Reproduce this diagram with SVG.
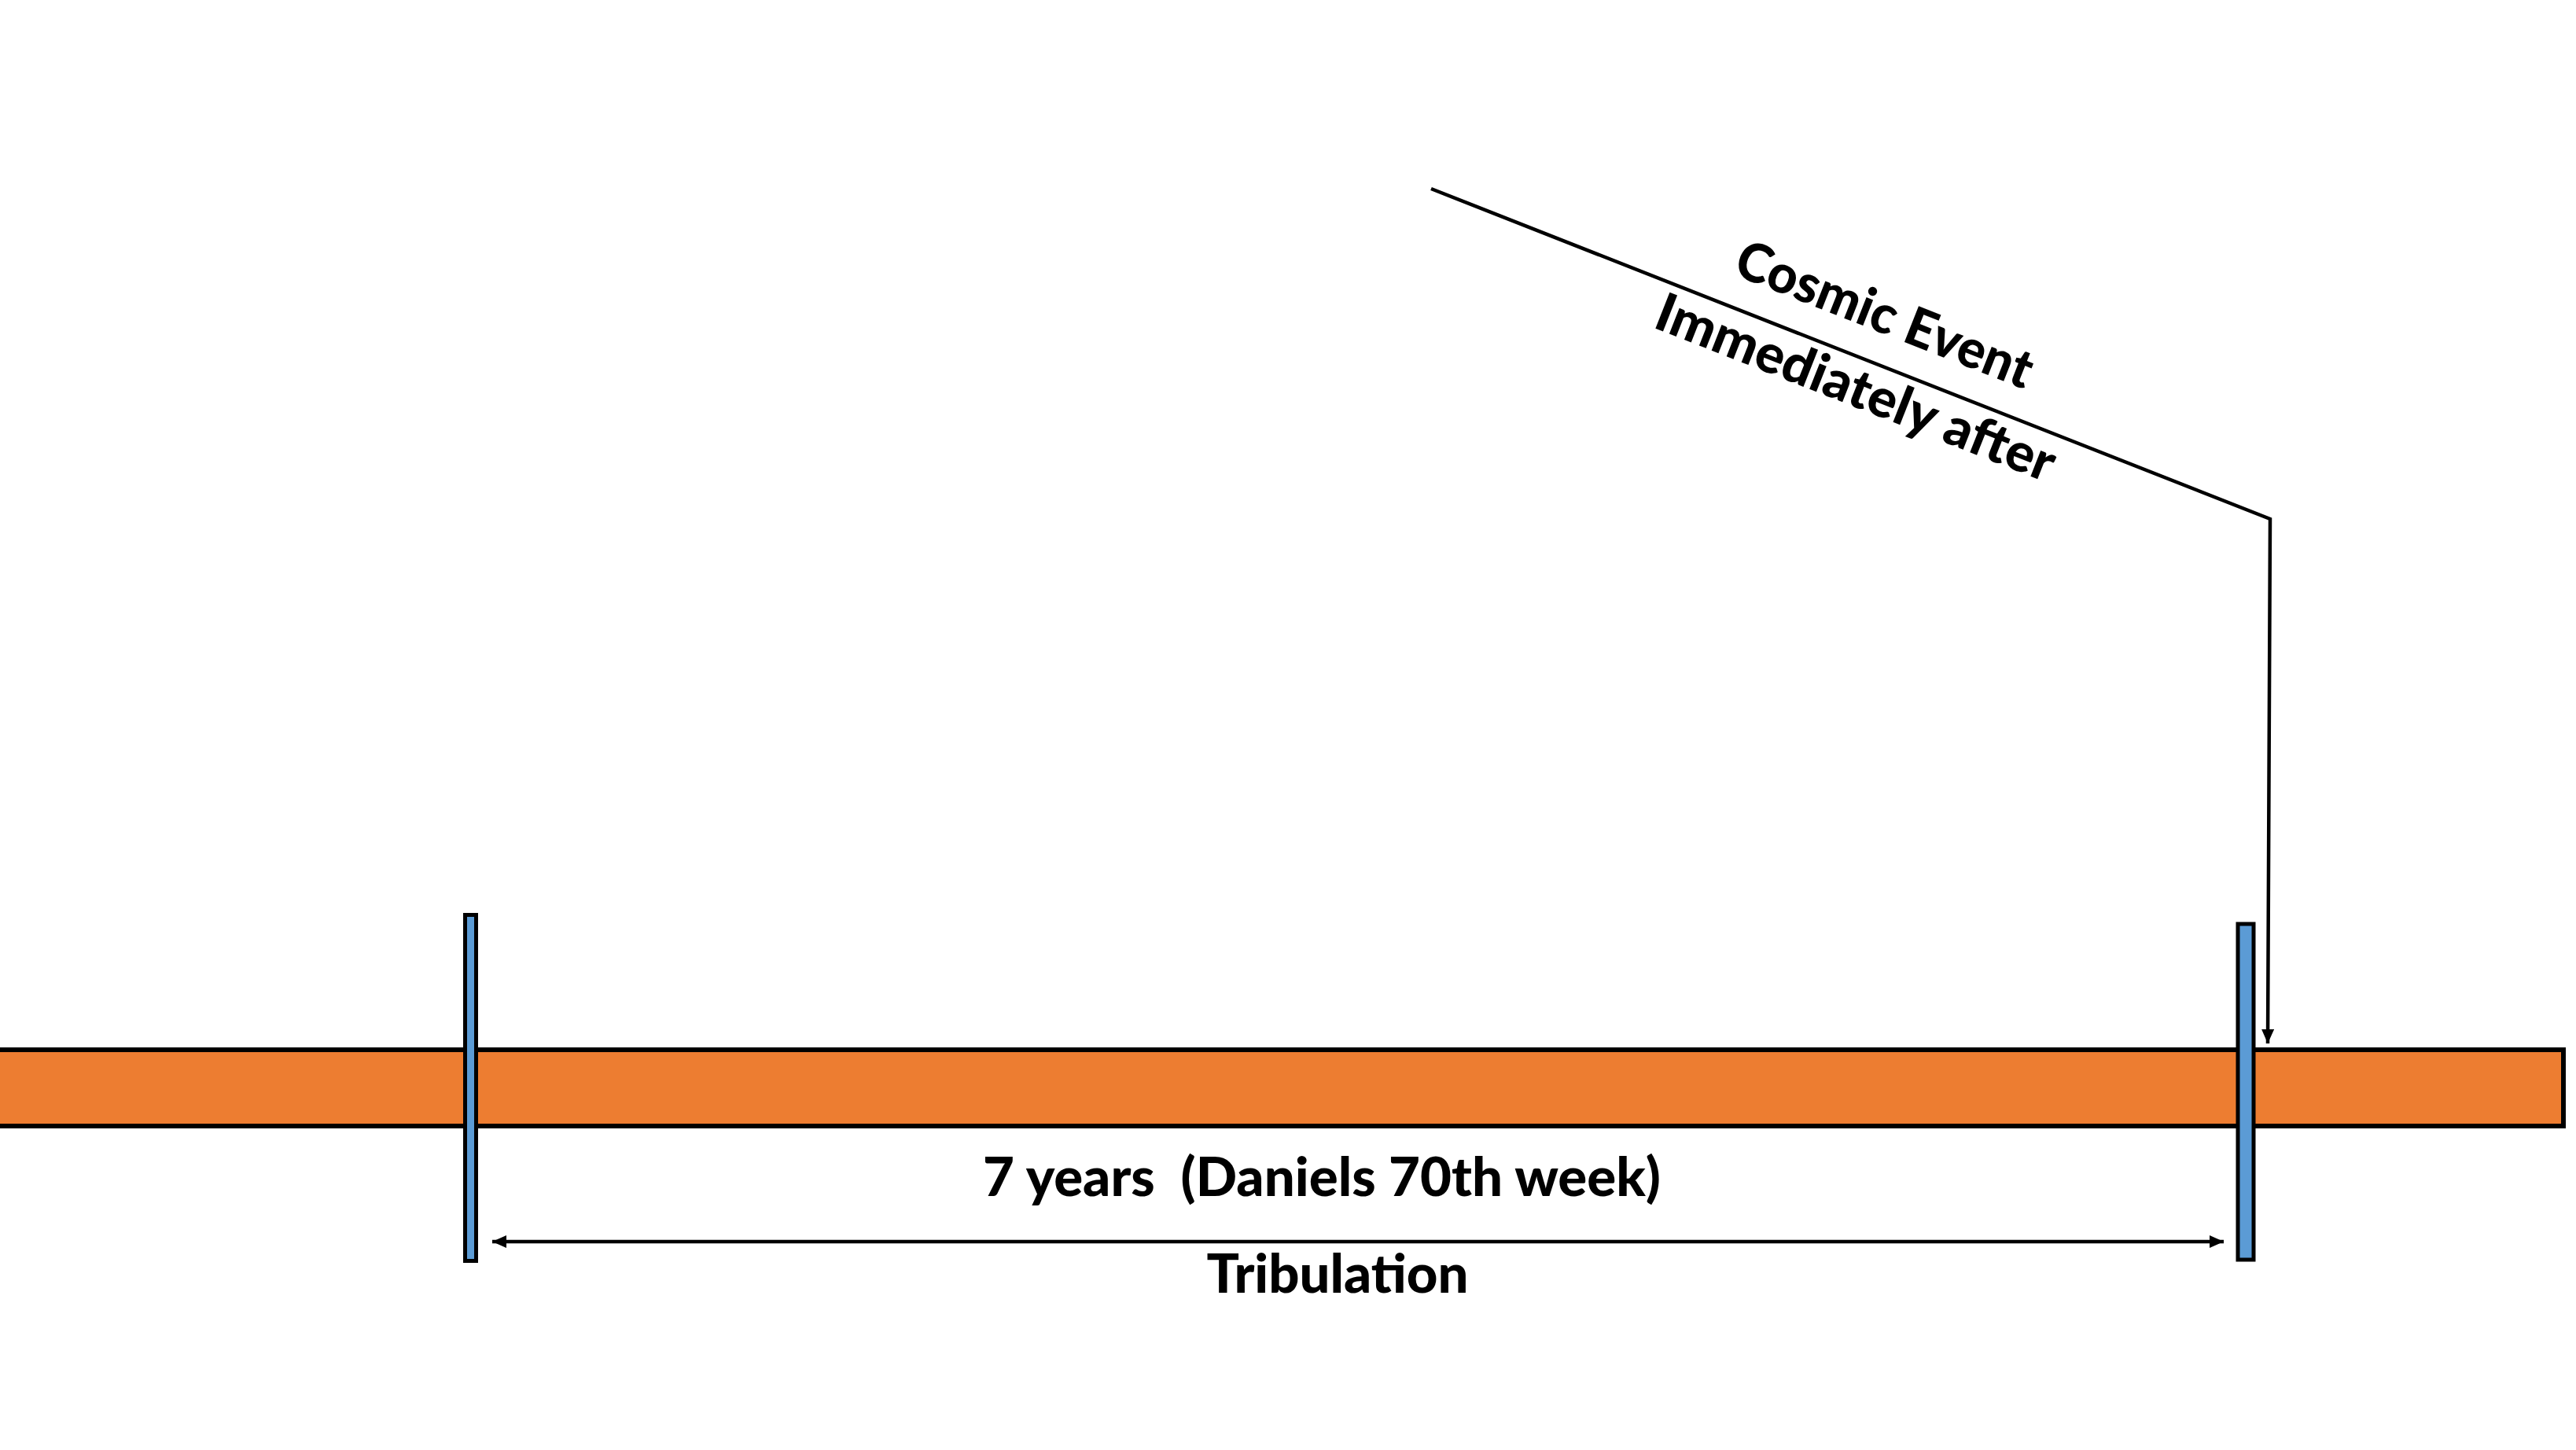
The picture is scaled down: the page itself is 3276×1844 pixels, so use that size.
<svg xmlns="http://www.w3.org/2000/svg" width="3276" height="1844" viewBox="0 0 3276 1844">
  <style>
    .lbl { font-family: Lato, "Open Sans", "Liberation Sans", sans-serif; font-weight: 900; font-size: 68px; fill: #000; white-space: pre; }
    .bar { fill: #ED7D31; stroke: #000; stroke-width: 6; }
    .mark { fill: #5B9BD5; stroke: #000; stroke-width: 5; }
    .conn { fill: none; stroke: #000; stroke-width: 4.5; }
  </style>
  <defs>
    <marker id="ah" markerUnits="userSpaceOnUse" markerWidth="20" markerHeight="16" refX="18" refY="8" orient="auto-start-reverse">
      <path d="M0,0 L18,8 L0,16 Z" fill="#000"/>
    </marker>
  </defs>
  <rect width="3276" height="1844" fill="#fff"/>

  <g id="timeline">
    <rect class="bar" x="-10" y="1335" width="3270" height="97"/>
  </g>

  <g id="start-mark">
    <rect class="mark" x="591.5" y="1163.5" width="14" height="440"/>
  </g>

  <g id="end-mark">
    <rect class="mark" x="2846" y="1175" width="20" height="427"/>
  </g>

  <g id="connectors">
    <path class="conn" d="M1820,240 L2887,660 L2884,1327" marker-end="url(#ah)"/>
    <line class="conn" x1="626" y1="1579" x2="2828" y2="1579" marker-start="url(#ah)" marker-end="url(#ah)"/>
  </g>

  <g id="labels">
    <text class="lbl" x="1681" y="1521" text-anchor="middle" textLength="862" lengthAdjust="spacingAndGlyphs">7 years  (Daniels 70th week)</text>
    <text class="lbl" x="1701" y="1644" text-anchor="middle" textLength="333" lengthAdjust="spacingAndGlyphs">Tribulation</text>
    <g transform="translate(2374,458) rotate(21.52)">
      <text class="lbl" x="0" y="-39" text-anchor="middle" textLength="400" lengthAdjust="spacingAndGlyphs">Cosmic Event</text>
      <text class="lbl" x="0" y="61" text-anchor="middle" textLength="540" lengthAdjust="spacingAndGlyphs">Immediately after</text>
    </g>
  </g>
</svg>
